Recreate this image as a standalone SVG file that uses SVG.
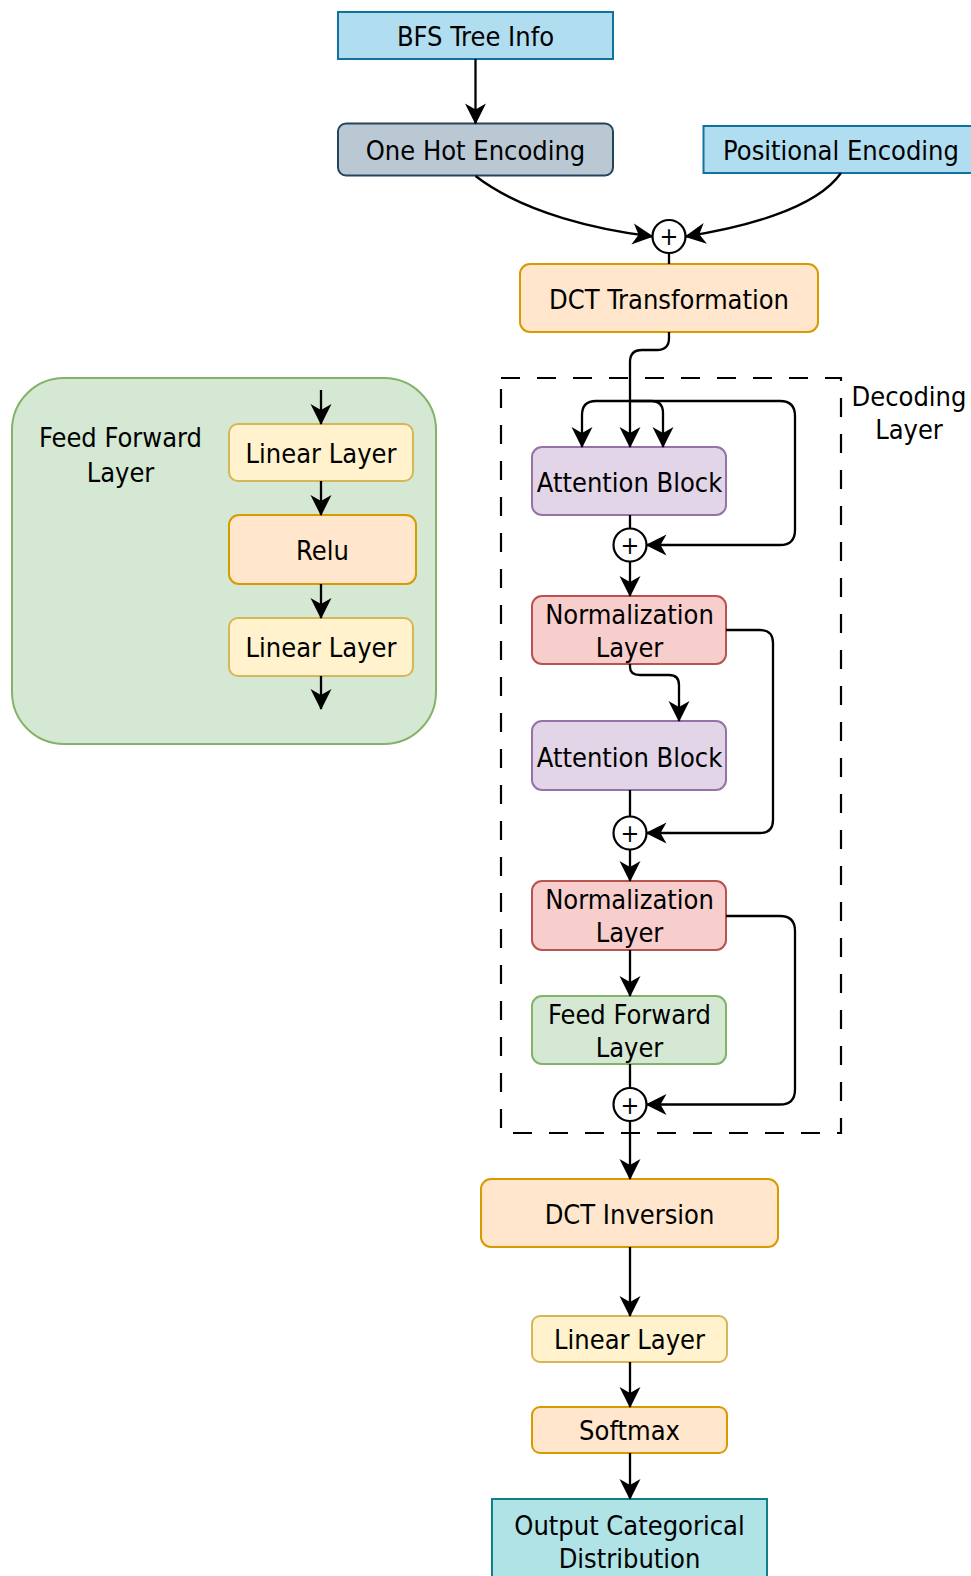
<svg xmlns="http://www.w3.org/2000/svg" width="971" height="1576" viewBox="0 0 971 1576">
<defs>
<marker id="arr" viewBox="-21 -11 22 22" refX="0" refY="0" markerWidth="22" markerHeight="22" markerUnits="userSpaceOnUse" orient="auto">
<path d="M1,0 L-20,-10.5 L-14,0 L-20,10.5 Z" fill="#000"/>
</marker>
</defs>
<style>
text{font-family:"DejaVu Sans Condensed","DejaVu Sans",sans-serif;font-stretch:condensed;font-size:27px;text-anchor:middle;fill:#000}
text.p{font-size:25px}
.c{fill:none;stroke:#000;stroke-width:2.3}
.a{marker-end:url(#arr)}
.blue{fill:#b1ddf0;stroke:#10739e;stroke-width:2}
.gray{fill:#bac8d3;stroke:#23445d;stroke-width:2}
.orange{fill:#ffe6cc;stroke:#d79b00;stroke-width:2}
.purple{fill:#e1d5e7;stroke:#9673a6;stroke-width:2}
.red{fill:#f8cecc;stroke:#b85450;stroke-width:2}
.green{fill:#d5e8d4;stroke:#82b366;stroke-width:2}
.yellow{fill:#fff2cc;stroke:#d6b656;stroke-width:2}
.teal{fill:#b0e3e6;stroke:#0e8088;stroke-width:2}
.sum{fill:#fff;stroke:#000;stroke-width:2.2}
.dash{fill:none;stroke:#000;stroke-width:2.2;stroke-dasharray:19 17}
</style>

<g id="ffpanel">
<rect x="12" y="378" width="424" height="366" rx="52" class="green"/>
<text x="120.5" y="447">Feed Forward</text>
<text x="120.5" y="482">Layer</text>
</g>
<g id="ff-linear1"><rect x="229" y="424" width="184" height="57" rx="9" class="yellow"/><text x="321" y="463">Linear Layer</text></g>
<g id="ff-relu"><rect x="229" y="515" width="187" height="69" rx="10" class="orange"/><text x="322.5" y="560">Relu</text></g>
<g id="ff-linear2"><rect x="229" y="618" width="184" height="58" rx="9" class="yellow"/><text x="321" y="657">Linear Layer</text></g>

<g id="decoding">
<rect x="501" y="378" width="340" height="755" class="dash"/>
<text x="909" y="406">Decoding</text>
<text x="909" y="439">Layer</text>
</g>

<g id="bfs"><rect x="338" y="12" width="275" height="47" class="blue"/><text x="475.5" y="45.5">BFS Tree Info</text></g>
<g id="onehot"><rect x="338" y="123.5" width="275" height="52" rx="8" class="gray"/><text x="475.5" y="159.5">One Hot Encoding</text></g>
<g id="positional"><rect x="703.5" y="126" width="276" height="47" class="blue"/><text x="841" y="159.5">Positional Encoding</text></g>
<g id="sum0"><circle cx="669" cy="236.5" r="16.5" class="sum"/><text class="p" x="669" y="245">+</text></g>
<g id="dct"><rect x="520" y="264" width="298" height="68" rx="10" class="orange"/><text x="669" y="309">DCT Transformation</text></g>

<g id="att1"><rect x="532" y="447" width="194" height="68" rx="10" class="purple"/><text x="629.5" y="492">Attention Block</text></g>
<g id="sum1"><circle cx="630" cy="545" r="16.5" class="sum"/><text class="p" x="630" y="553.5">+</text></g>
<g id="norm1"><rect x="532" y="596" width="194" height="68" rx="10" class="red"/><text x="629.5" y="623.5">Normalization</text><text x="629.5" y="656.5">Layer</text></g>
<g id="att2"><rect x="532" y="721" width="194" height="69" rx="10" class="purple"/><text x="629.5" y="766.5">Attention Block</text></g>
<g id="sum2"><circle cx="630" cy="833" r="16.5" class="sum"/><text class="p" x="630" y="841.5">+</text></g>
<g id="norm2"><rect x="532" y="881" width="194" height="69" rx="10" class="red"/><text x="629.5" y="909">Normalization</text><text x="629.5" y="942">Layer</text></g>
<g id="ffl"><rect x="532" y="996" width="194" height="68" rx="10" class="green"/><text x="629.5" y="1023.5">Feed Forward</text><text x="629.5" y="1056.5">Layer</text></g>
<g id="sum3"><circle cx="630" cy="1104.5" r="16.5" class="sum"/><text class="p" x="630" y="1113.5">+</text></g>

<g id="dctinv"><rect x="481" y="1179" width="297" height="68" rx="10" class="orange"/><text x="629.5" y="1224">DCT Inversion</text></g>
<g id="linear"><rect x="532" y="1316" width="195" height="46" rx="8" class="yellow"/><text x="629.5" y="1349">Linear Layer</text></g>
<g id="softmax"><rect x="532" y="1407" width="195" height="46" rx="8" class="orange"/><text x="629.5" y="1440">Softmax</text></g>
<g id="output"><rect x="492" y="1499" width="275" height="86" class="teal"/><text x="629.5" y="1535">Output Categorical</text><text x="629.5" y="1568">Distribution</text></g>

<g id="connectors">
<path class="c a" d="M475.5,59 L475.5,123.5"/>
<path class="c a" d="M475.5,176 C525,214 600,230 652.5,236.5"/>
<path class="c a" d="M841,173 C815,210 740,228 685.5,236.5"/>
<path class="c" d="M669,253 L669,264"/>
<path class="c a" d="M669,332 L669,338 Q669,350 657,350 L642,350 Q630,350 630,362 L630,447"/>
<path class="c a" d="M630,401 L596,401 Q582,401 582,415 L582,447"/>
<path class="c a" d="M630,401 L651,401 Q663,401 663,413 L663,447"/>
<path class="c a" d="M630,401 L780,401 Q795,401 795,416 L795,530 Q795,545 780,545 L646.5,545"/>
<path class="c" d="M630,515 L630,528.5"/>
<path class="c a" d="M630,561.5 L630,596"/>
<path class="c a" d="M630,664 L630,667 Q630,675 640,675 L669,675 Q679,675 679,685 L679,721"/>
<path class="c a" d="M726,630 L760,630 Q773,630 773,643 L773,820 Q773,833 760,833 L646.5,833"/>
<path class="c" d="M630,790 L630,816.5"/>
<path class="c a" d="M630,849.5 L630,881"/>
<path class="c a" d="M726,916 L780,916 Q795,916 795,931 L795,1089.5 Q795,1104.5 780,1104.5 L646.5,1104.5"/>
<path class="c a" d="M630,950 L630,996"/>
<path class="c" d="M630,1064 L630,1088"/>
<path class="c a" d="M630,1121 L630,1179"/>
<path class="c a" d="M630,1247 L630,1316"/>
<path class="c a" d="M630,1362 L630,1407"/>
<path class="c a" d="M630,1453 L630,1499"/>
<path class="c a" d="M321,390 L321,424"/>
<path class="c a" d="M321,481 L321,515"/>
<path class="c a" d="M321,584 L321,618"/>
<path class="c a" d="M321,676 L321,709"/>
</g>
</svg>
